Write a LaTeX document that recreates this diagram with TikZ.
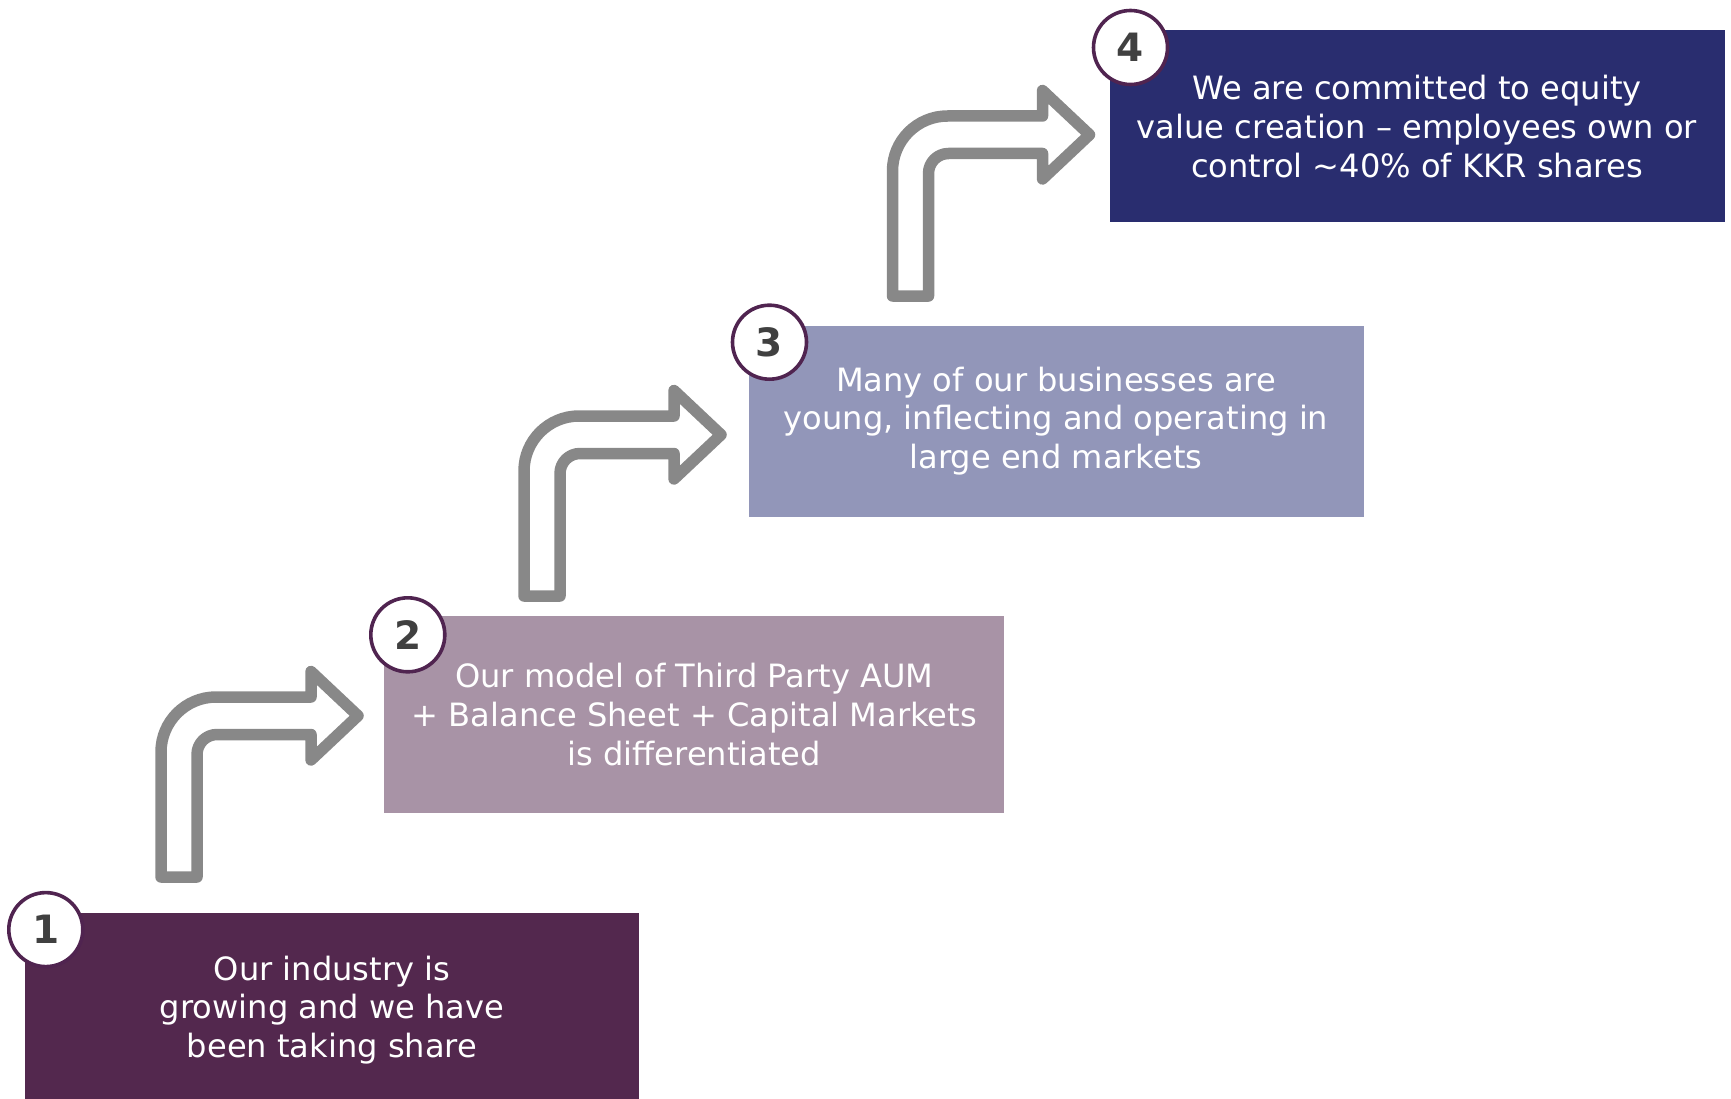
\documentclass[tikz,border=0pt]{standalone}
\usepackage{fontspec}
\setmainfont{DejaVu Sans}
\definecolor{stepone}{RGB}{83,40,78}
\definecolor{steptwo}{RGB}{168,147,166}
\definecolor{stepthree}{RGB}{146,150,185}
\definecolor{stepfour}{RGB}{41,45,111}
\definecolor{ringcol}{RGB}{80,36,80}
\definecolor{digitcol}{RGB}{64,64,64}
\definecolor{arrowgray}{RGB}{136,136,136}
\tikzset{
  stepbox/.style={rectangle, inner sep=0pt, text=white, align=center,
    font=\fontsize{32.1}{38.7}\selectfont},
  badge/.style={circle, draw=ringcol, line width=3.6pt, fill=white,
    minimum size=74pt, inner sep=0pt, text=digitcol,
    font=\bfseries\fontsize{39}{39}\selectfont},
  arrowline/.style={draw=arrowgray, fill=white, line width=11.5pt,
    line join=round},
  % bent block arrow; origin = top-left corner of its centre line
  bendarrow/.pic={
    \path[arrowline] (0,180) -- (0,55)
      .. controls (0,24.6) and (24.6,0) .. (55,0)
      -- (150,0) -- (150,-25.5) -- (197,18.75) -- (150,63) -- (150,37.5)
      -- (56,37.5) .. controls (44.95,37.5) and (36,46.45) .. (36,57.5)
      -- (36,180) -- cycle;
  }
}
\begin{document}
\begin{tikzpicture}[x=1pt,y=-1pt]
\useasboundingbox (0,0) rectangle (1731,1099);

% step boxes
\node[stepbox, fill=stepone, minimum width=614pt, minimum height=194pt]
  (s1) at (332,1010) {Our industry is\\growing and we have\\been taking share};
\node[stepbox, fill=steptwo, minimum width=620pt, minimum height=197.5pt]
  (s2) at (694.3,714.5) {Our model of Third Party AUM\\+ Balance Sheet + Capital Markets\\is differentiated};
\node[stepbox, fill=stepthree, minimum width=615pt, minimum height=191pt]
  (s3) at (1056,421) {Many of our businesses are\\young, inflecting and operating in\\large end markets};
\node[stepbox, fill=stepfour, minimum width=615pt, minimum height=192pt]
  (s4) at (1417,126.5) {We are committed to equity\\value creation – employees own or\\control \textasciitilde 40\% of KKR shares};

% numbered badges
\node[badge] (n1) at (45.8,929.6) {1};
\node[badge] (n2) at (407.8,634.8) {2};
\node[badge] (n3) at (769.5,342.2) {3};
\node[badge] (n4) at (1130.5,47.5) {4};

% bent arrows between the steps
\pic at (161,697) {bendarrow};
\pic at (524,416) {bendarrow};
\pic at (892.5,116) {bendarrow};
\end{tikzpicture}
\end{document}
